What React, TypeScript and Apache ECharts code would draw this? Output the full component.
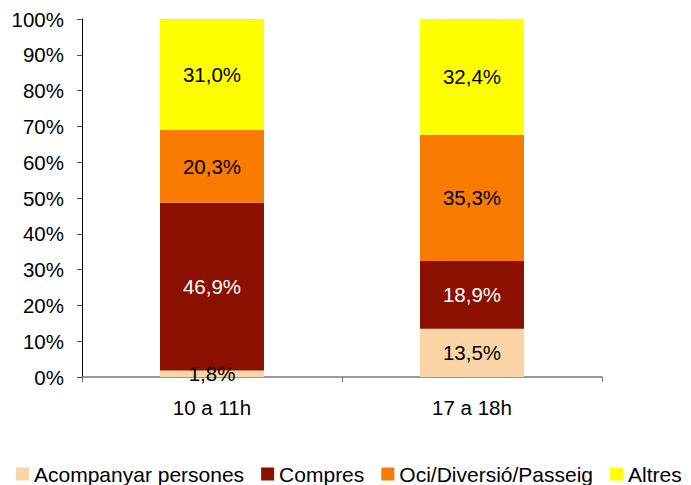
import React, { useEffect, useRef } from "react";
import * as echarts from "echarts";

const categories = ["10 a 11h", "17 a 18h"];
const seriesNames = ["Acompanyar persones", "Compres", "Oci/Diversió/Passeig", "Altres"];
const acompanyar = [1.8, 13.5];
const compres = [46.9, 18.9];
const oci = [20.3, 35.3];
const altres = [31.0, 32.4];
const colors = ["#FBD5A5", "#8B1000", "#F97C00", "#FFFF00"];
const labelColors = ["#000", "#fff", "#000", "#000"];

const FONT = "Liberation Sans, Arial, sans-serif";
const FS = 20.5;

export default function App() {
  const ref = useRef<HTMLDivElement>(null);
  useEffect(() => {
    const chart = echarts.init(ref.current!, null, { renderer: "svg" });
    const data = [acompanyar, compres, oci, altres];
    chart.setOption({
      animation: false,
      textStyle: { fontFamily: FONT },
      grid: { left: 82, right: 89, top: 19, bottom: 108 },
      legend: {
        top: 462,
        left: 16,
        padding: 0,
        itemWidth: 13,
        itemHeight: 13,
        itemGap: 17,
        icon: "rect",
        textStyle: { fontSize: 21, lineHeight: 24, color: "#000", fontFamily: FONT },
        data: seriesNames,
      },
      xAxis: {
        type: "category",
        data: categories,
        axisLine: { lineStyle: { color: "#777", width: 1.5 } },
        axisTick: { show: true, length: 5, inside: false, lineStyle: { color: "#777" } },
        axisLabel: { fontSize: FS, color: "#000", margin: 20 },
      },
      yAxis: {
        type: "value",
        min: 0,
        max: 100,
        interval: 10,
        axisLine: { show: true, lineStyle: { color: "#000" } },
        axisTick: { show: true, length: 5, lineStyle: { color: "#555" } },
        splitLine: { show: false },
        axisLabel: { fontSize: FS, color: "#000", margin: 18, formatter: "{value}%" },
      },
      series: seriesNames.map((name, i) => ({
        name,
        type: "bar",
        stack: "total",
        barWidth: "40%",
        itemStyle: { color: colors[i] },
        label: {
          show: true,
          position: "inside",
          fontSize: FS,
          color: labelColors[i],
          formatter: (p: any) => p.value.toFixed(1).replace(".", ",") + "%",
        },
        data: data[i],
      })),
    });
    return () => chart.dispose();
  }, []);
  return <div ref={ref} style={{ width: 691, height: 485, position: "absolute", left: 0, top: 0 }} />;
}
